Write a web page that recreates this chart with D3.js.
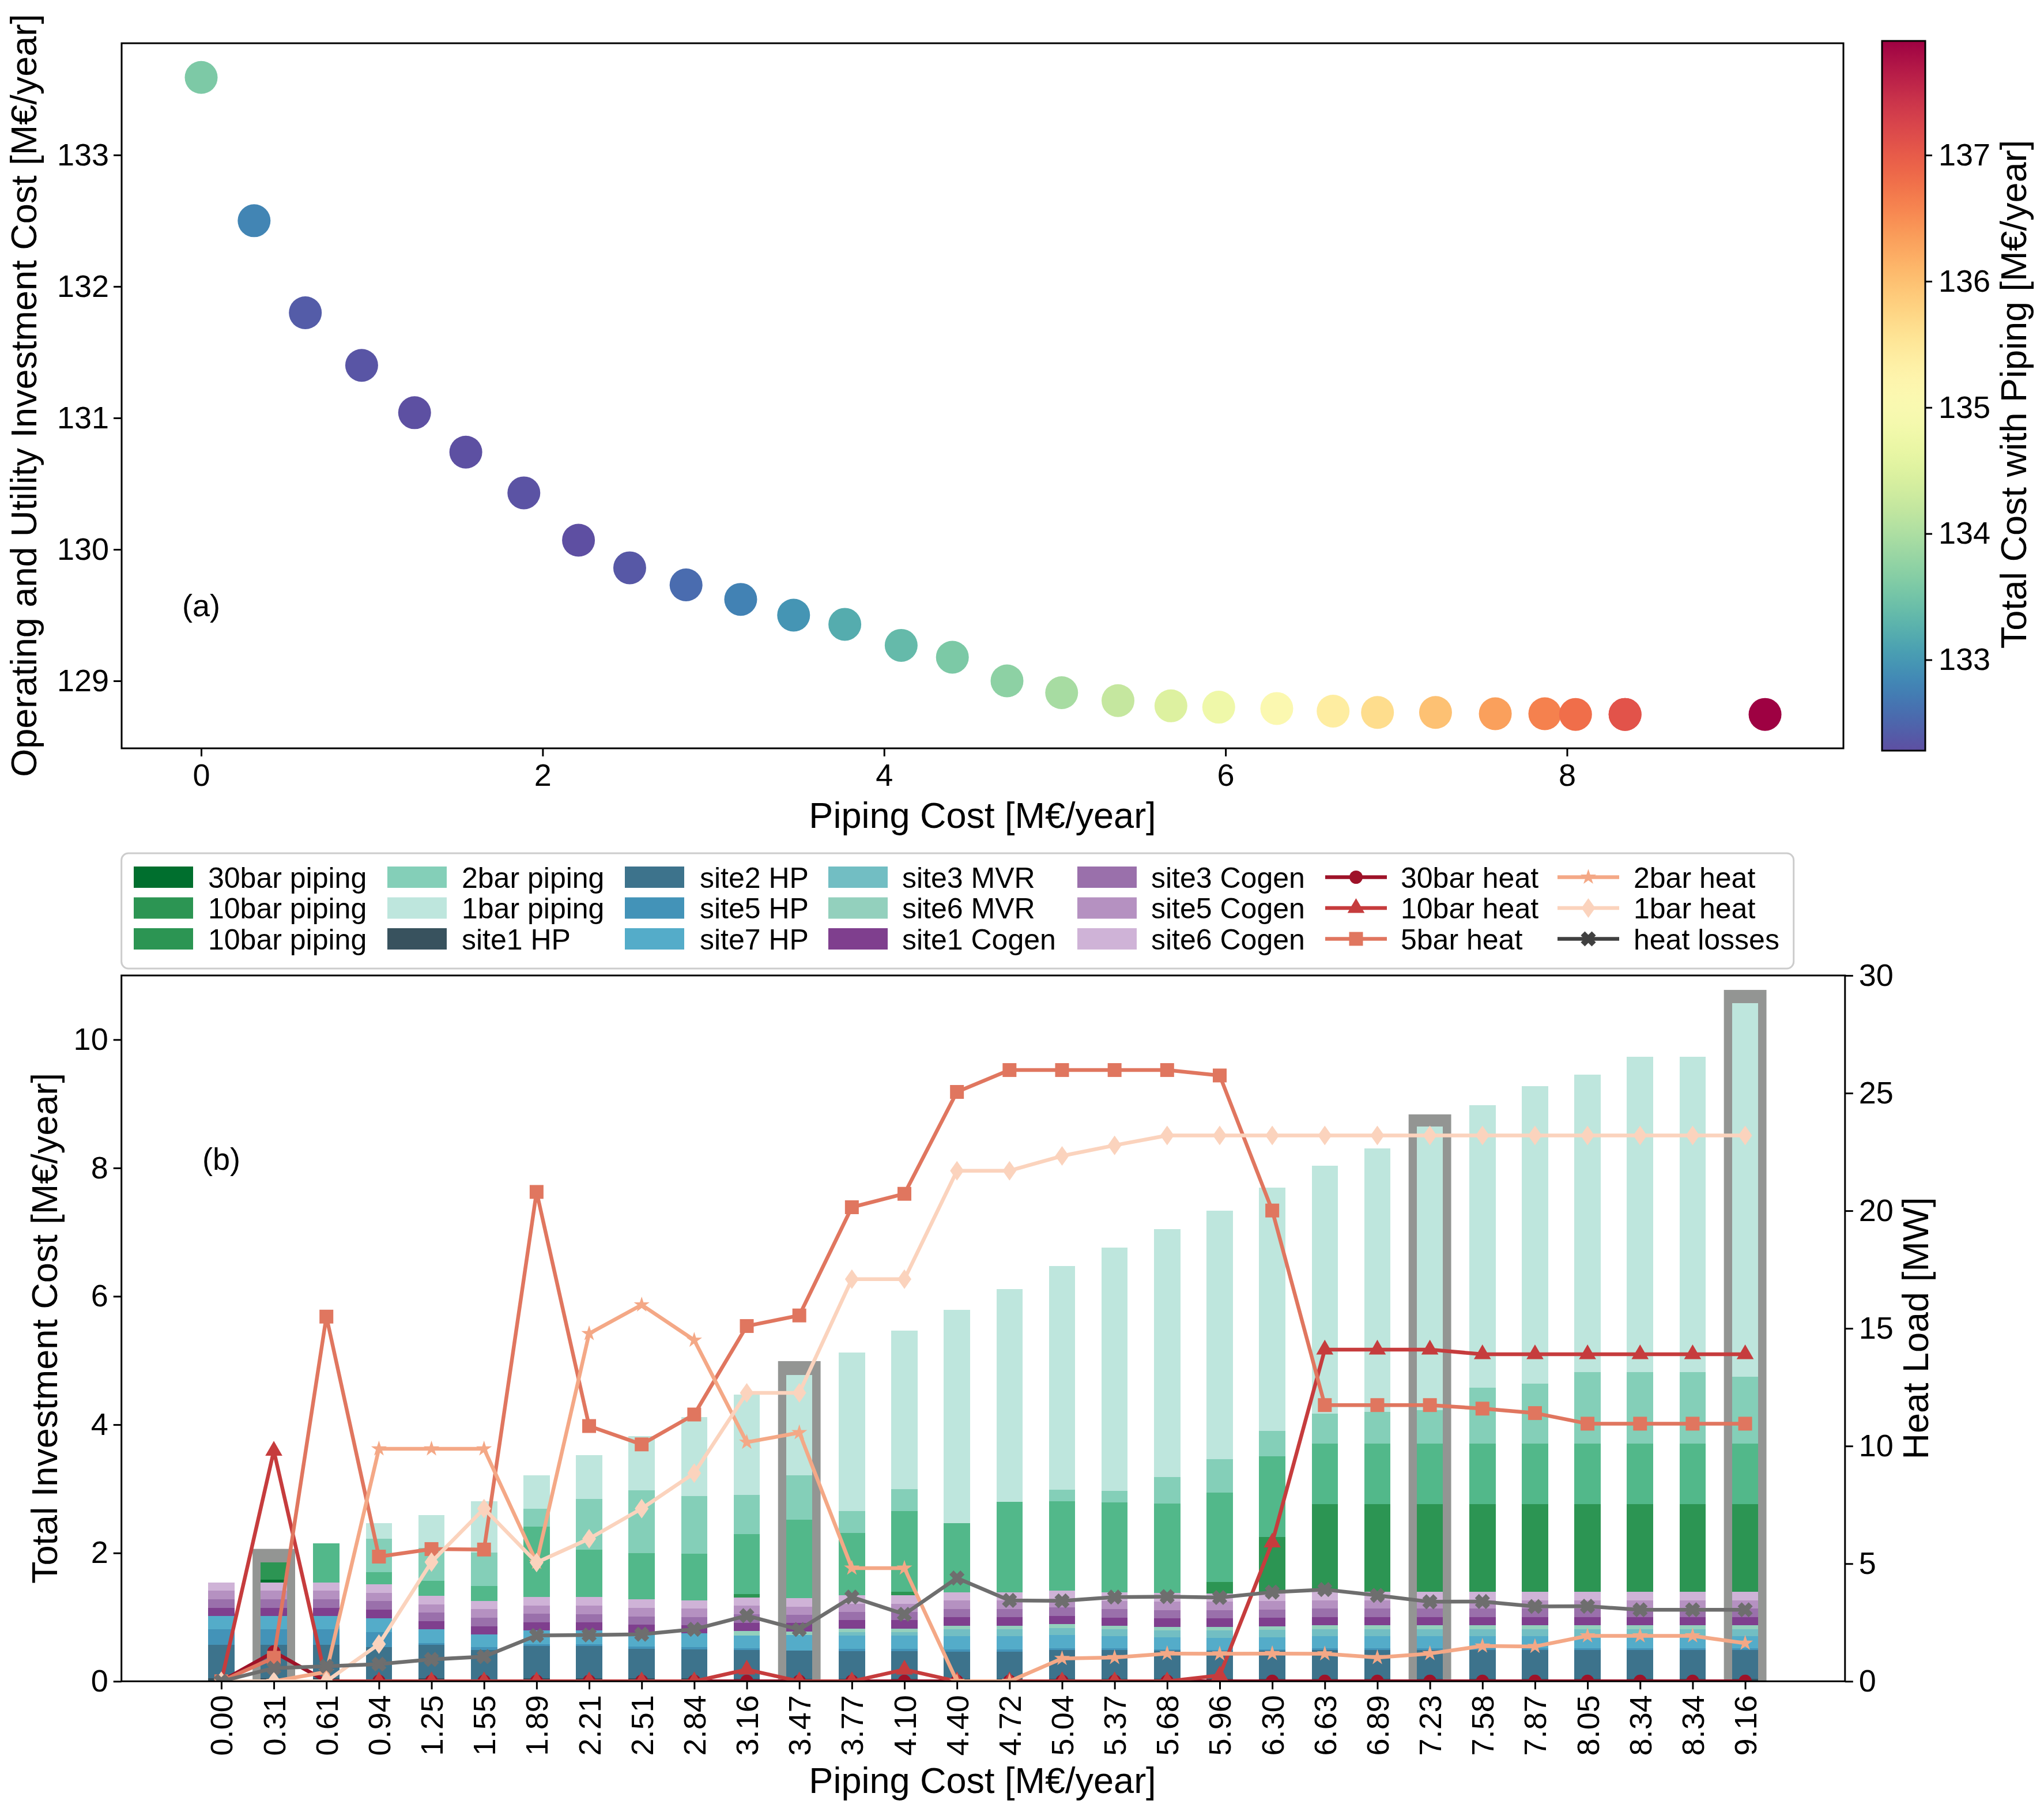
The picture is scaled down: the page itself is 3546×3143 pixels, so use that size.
<!DOCTYPE html>
<html><head><meta charset="utf-8">
<script src="https://cdn.jsdelivr.net/npm/d3@7"></script>
<style>body{margin:0;background:#fff} text{font-family:"Liberation Sans",Arial,Helvetica,sans-serif}</style>
</head><body><svg id="c" width="3546" height="3143"></svg>
<script>
// ---------------- DATA ----------------
const pipingLabels = ["0.00","0.31","0.61","0.94","1.25","1.55","1.89","2.21","2.51","2.84","3.16","3.47","3.77","4.10","4.40","4.72","5.04","5.37","5.68","5.96","6.30","6.63","6.89","7.23","7.58","7.87","8.05","8.34","8.34","9.16"];
const pipingCost = [0,0.31,0.61,0.94,1.25,1.55,1.89,2.21,2.51,2.84,3.16,3.47,3.77,4.10,4.40,4.72,5.04,5.37,5.68,5.96,6.30,6.63,6.89,7.23,7.58,7.87,8.05,8.34,8.34,9.16];
const opexCost = [133.59,132.50,131.80,131.40,131.04,130.74,130.43,130.07,129.86,129.73,129.62,129.50,129.43,129.27,129.18,129.00,128.91,128.85,128.81,128.80,128.79,128.77,128.76,128.76,128.75,128.75,128.745,128.745,128.745,128.745];
const totalCost = [133.59,132.81,132.41,132.34,132.29,132.29,132.32,132.28,132.37,132.57,132.78,132.97,133.20,133.37,133.58,133.72,133.95,134.22,134.49,134.76,135.09,135.40,135.65,135.99,136.33,136.62,136.80,137.09,137.09,137.905];
const topXTicks = [0,2,4,6,8];
const topYTicks = [129,130,131,132,133];
const cbarTicks = [133,134,135,136,137];

const site1HP   = [0.05,0.05,0.05,0.03,0.05,0.03,0.05,0.05,0.05,0.05,0.04,0.04,0.04,0.04,0.04,0.04,0.04,0.04,0.04,0.04,0.04,0.04,0.04,0.04,0.04,0.04,0.04,0.04,0.04,0.04];
const site2HP   = [0.52,0.52,0.52,0.50,0.52,0.46,0.50,0.50,0.46,0.45,0.45,0.44,0.43,0.43,0.42,0.42,0.445,0.445,0.436,0.43,0.436,0.445,0.445,0.445,0.445,0.445,0.445,0.445,0.445,0.445];
const site5HP   = [0.24,0.24,0.24,0.24,0.03,0.04,0.03,0.03,0.03,0.035,0.025,0,0.036,0.036,0.036,0.036,0.03,0.03,0.025,0.02,0.02,0.03,0.03,0.03,0.03,0.03,0.03,0.03,0.03,0.03];
const site7HP   = [0.21,0.21,0.21,0.21,0.21,0.20,0.21,0.21,0.215,0.21,0.20,0.245,0.21,0.21,0.21,0.21,0.207,0.186,0.185,0.19,0.19,0.186,0.186,0.186,0.186,0.186,0.186,0.186,0.186,0.186];
const site3MVR  = [0,0,0,0,0,0,0,0,0,0,0,0,0.051,0.051,0.105,0.105,0.107,0.111,0.111,0.114,0.117,0.111,0.111,0.111,0.111,0.111,0.111,0.111,0.111,0.111];
const site6MVR  = [0,0,0,0,0,0,0,0,0,0,0.07,0.05,0.054,0.054,0.054,0.054,0.06,0.054,0.051,0.054,0.054,0.06,0.06,0.06,0.06,0.06,0.06,0.06,0.06,0.06];
const site1Cogen= [0.123,0.123,0.123,0.135,0.13,0.13,0.132,0.132,0.13,0.13,0.126,0.134,0.134,0.134,0.134,0.134,0.133,0.129,0.135,0.135,0.134,0.128,0.128,0.128,0.128,0.128,0.128,0.128,0.128,0.128];
const site3Cogen= [0.135,0.135,0.135,0.135,0.135,0.13,0.135,0.126,0.12,0.126,0.135,0.13,0.126,0.126,0.129,0.129,0.135,0.134,0.128,0.129,0.129,0.135,0.135,0.135,0.135,0.135,0.135,0.135,0.135,0.135];
const site5Cogen= [0.135,0.135,0.135,0.126,0.126,0.136,0.126,0.135,0.135,0.135,0.135,0.126,0.129,0.129,0.132,0.132,0.128,0.126,0.129,0.129,0.132,0.126,0.126,0.126,0.126,0.126,0.126,0.126,0.126,0.126];
const site6Cogen= [0.125,0.125,0.125,0.134,0.129,0.126,0.135,0.135,0.135,0.126,0.125,0.132,0.135,0.135,0.129,0.129,0.126,0.135,0.135,0.129,0.123,0.135,0.135,0.135,0.135,0.135,0.135,0.135,0.135,0.135];
const pipe30bar = [0,0.05,0,0,0,0,0,0,0,0,0,0,0,0,0,0,0,0,0,0,0,0,0,0,0,0,0,0,0,0];
const pipe10bar = [0,0.27,0,0,0,0,0,0,0,0,0.054,0,0,0.051,0,0,0,0,0,0.18,0.875,1.367,1.367,1.367,1.367,1.367,1.367,1.367,1.367,1.367];
const pipe5bar  = [0,0,0.61,0.19,0.237,0.237,1.09,0.73,0.725,0.728,0.935,1.222,0.968,1.259,1.077,1.405,1.397,1.394,1.394,1.394,1.259,0.944,0.944,0.944,0.944,0.944,0.944,0.944,0.944,0.944];
const pipe2bar  = [0,0,0,0.52,0.51,0.52,0.28,0.79,0.98,0.90,0.61,0.693,0.342,0.344,0,0,0.18,0.186,0.417,0.521,0.396,0.463,0.49,0.523,0.871,0.935,1.114,1.114,1.114,1.036];
const pipe1bar  = [0,0,0,0.245,0.51,0.80,0.52,0.69,0.84,1.23,1.563,1.563,2.469,2.464,3.323,3.316,3.485,3.792,3.865,3.87,3.788,3.867,4.105,4.412,4.404,4.633,4.633,4.913,4.913,5.826];

const highlightIdx = [1,11,23,29];
const highlightTop = [2.064,4.99,8.835,10.775];

const heat30 = [0,1.25,0,0,0,0,0,0,0,0,0,0,0,0,0,0,0,0,0,0,0,0,0,0,0,0,0,0,0,0];
const heat10 = [0,9.8,0,0,0,0,0,0,0,0,0.5,0,0,0.5,0,0,0,0,0,0.25,5.9,14.1,14.1,14.1,13.9,13.9,13.9,13.9,13.9,13.9];
const heat5  = [0,1.0,15.5,5.3,5.62,5.6,20.8,10.85,10.07,11.34,15.1,15.55,20.15,20.72,25.05,25.98,25.98,25.98,25.98,25.75,20.01,11.74,11.74,11.74,11.59,11.4,10.95,10.95,10.95,10.95];
const heat2  = [0,0,0.4,9.88,9.88,9.88,5.05,14.78,16.0,14.5,10.16,10.57,4.81,4.81,0,0,0.97,1.01,1.18,1.17,1.18,1.17,1.01,1.18,1.5,1.48,1.93,1.93,1.93,1.62];
const heat1  = [0,0,0,1.58,5.07,7.34,5.05,6.06,7.34,8.85,12.26,12.26,17.09,17.09,21.7,21.7,22.33,22.78,23.2,23.2,23.2,23.2,23.2,23.2,23.2,23.2,23.2,23.2,23.2,23.2];
const heatLoss = [0,0.56,0.64,0.73,0.93,1.05,1.95,1.97,2.0,2.21,2.79,2.2,3.58,2.85,4.39,3.44,3.42,3.58,3.6,3.56,3.79,3.9,3.65,3.38,3.39,3.18,3.19,3.04,3.04,3.04];

const leftYTicks = [0,2,4,6,8,10];
const rightYTicks = [0,5,10,15,20,25,30];

const barKeys = ["site1 HP","site2 HP","site5 HP","site7 HP","site3 MVR","site6 MVR","site1 Cogen","site3 Cogen","site5 Cogen","site6 Cogen","30bar piping","10bar piping","5bar piping","2bar piping","1bar piping"];
const barValues = [site1HP,site2HP,site5HP,site7HP,site3MVR,site6MVR,site1Cogen,site3Cogen,site5Cogen,site6Cogen,pipe30bar,pipe10bar,pipe5bar,pipe2bar,pipe1bar];
const barColors = ["#38525e","#3d738c","#4393b8","#54acc9","#72bec3","#93d0bd","#7f3f8e","#9a70ab","#b591c1","#cfb3d7","#006f2e","#2c9553","#52b88a","#84cfb8","#bee6dd"];

const lineNames = ["30bar heat","10bar heat","5bar heat","2bar heat","1bar heat","heat losses"];
const lineValues = [heat30,heat10,heat5,heat2,heat1,heatLoss];
const lineColors = ["#9e1228","#c63c3d","#e0765f","#f4a886","#fbd3bd","#6e6e6e"];
const legendLineColors = ["#9e1228","#c63c3d","#e0765f","#f4a886","#fbd3bd","#404040"];
const lineMarkers = ["circle","triangle","square","star","diamond","x"];

const legendLabels = ["30bar piping","10bar piping","10bar piping","2bar piping","1bar piping","site1 HP","site2 HP","site5 HP","site7 HP","site3 MVR","site6 MVR","site1 Cogen","site3 Cogen","site5 Cogen","site6 Cogen"];
const legendColors = ["#006f2e","#2c9553","#2c9553","#84cfb8","#bee6dd","#38525e","#3d738c","#4393b8","#54acc9","#72bec3","#93d0bd","#7f3f8e","#9a70ab","#b591c1","#cfb3d7"];

// ---------------- DRAW ----------------
const FONT = '"Liberation Sans", Arial, Helvetica, sans-serif';
const svg = d3.select("#c");
svg.append("rect").attr("width",3546).attr("height",3143).attr("fill","#fff");

function styleAxis(g, fs){
  g.attr("font-family",null);
  g.select(".domain").remove();
  g.selectAll(".tick line").attr("stroke","#000").attr("stroke-width",3);
  g.selectAll(".tick text").attr("fill","#000").style("font-size",fs+"px").style("font-family",FONT);
}

// ---- Panel (a) ----
const T = {l:211, r:3198, t:75, b:1298};
const xT = d3.scaleLinear().domain([-0.466, 9.619]).range([T.l, T.r]);
const yT = d3.scaleLinear().domain([128.487, 133.85]).range([T.b, T.t]);
const cScale = d3.scaleSequential(t => d3.interpolateSpectral(1 - t)).domain([132.28, 137.905]);

svg.append("g").selectAll("circle").data(pipingCost).join("circle")
  .attr("cx", d => xT(d)).attr("cy", (d,i) => yT(opexCost[i]))
  .attr("r", 28.5).attr("fill", (d,i) => cScale(totalCost[i]));

svg.append("g").attr("transform",`translate(0,${T.b})`)
  .call(d3.axisBottom(xT).tickValues(topXTicks).tickSize(14).tickPadding(13).tickFormat(d3.format("d")))
  .call(g => styleAxis(g,54));
svg.append("g").attr("transform",`translate(${T.l},0)`)
  .call(d3.axisLeft(yT).tickValues(topYTicks).tickSize(14).tickPadding(8).tickFormat(d3.format("d")))
  .call(g => styleAxis(g,54));
svg.append("rect").attr("x",T.l).attr("y",T.t).attr("width",T.r-T.l).attr("height",T.b-T.t)
  .attr("fill","none").attr("stroke","#000").attr("stroke-width",3);

svg.append("text").attr("x",(T.l+T.r)/2).attr("y",1436).attr("text-anchor","middle")
  .style("font-size","63px").text("Piping Cost [M€/year]");
svg.append("text").attr("transform","translate(63,686) rotate(-90)").attr("text-anchor","middle")
  .style("font-size","63px").text("Operating and Utility Investment Cost [M€/year]");
svg.append("text").attr("x",xT(0)).attr("y",yT(129.49)).attr("text-anchor","middle")
  .style("font-size","54px").text("(a)");

// colorbar
const CB = {l:3265, r:3340, t:71, b:1302};
const cbY = d3.scaleLinear().domain(cScale.domain()).range([CB.b, CB.t]);
const defs = svg.append("defs");
const grad = defs.append("linearGradient").attr("id","cbg").attr("x1",0).attr("y1",1).attr("x2",0).attr("y2",0);
d3.range(0,1.0001,0.02).forEach(t => grad.append("stop").attr("offset",t).attr("stop-color", d3.interpolateSpectral(1-t)));
svg.append("rect").attr("x",CB.l).attr("y",CB.t).attr("width",CB.r-CB.l).attr("height",CB.b-CB.t)
  .attr("fill","url(#cbg)").attr("stroke","#000").attr("stroke-width",3);
svg.append("g").attr("transform",`translate(${CB.r},0)`)
  .call(d3.axisRight(cbY).tickValues(cbarTicks).tickSize(12).tickPadding(11).tickFormat(d3.format("d")))
  .call(g => styleAxis(g,54));
svg.append("text").attr("transform","translate(3515,684) rotate(-90)").attr("text-anchor","middle")
  .style("font-size","63px").text("Total Cost with Piping [M€/year]");

// ---- Panel (b) ----
const B = {l:210.7, r:3200.8, t:1692, b:2916.3};
const xB = d3.scaleLinear().domain([-1.9, 30.9]).range([B.l, B.r]);
const yB = d3.scaleLinear().domain([0, 11.0]).range([B.b, B.t]);
const yR = d3.scaleLinear().domain([0, 30]).range([B.b, B.t]);
const bw = xB(0.5) - xB(0);
const gw = xB(0.81) - xB(0);

defs.append("clipPath").attr("id","clipB").append("rect")
  .attr("x",B.l).attr("y",B.t).attr("width",B.r-B.l).attr("height",B.b-B.t);

// highlight
svg.append("g").selectAll("rect").data(highlightIdx).join("rect")
  .attr("x", d => xB(d) - gw/2).attr("width", gw)
  .attr("y", (d,i) => yB(highlightTop[i])).attr("height", (d,i) => yB(0) - yB(highlightTop[i]))
  .attr("fill","#939593");

// stacked bars
const rows = pipingLabels.map((lab,i) => {
  const r = {idx:i};
  barKeys.forEach((k,j) => r[k] = barValues[j][i]);
  return r;
});
const stacked = d3.stack().keys(barKeys)(rows);
svg.append("g").attr("shape-rendering","crispEdges").selectAll("g").data(stacked).join("g")
  .attr("fill", (d,j) => barColors[j])
  .selectAll("rect").data(d => d).join("rect")
  .attr("x", d => xB(d.data.idx) - bw/2).attr("width", bw)
  .attr("y", d => yB(d[1])).attr("height", d => Math.max(0, yB(d[0]) - yB(d[1])));

// symbols
function symPath(name){
  switch(name){
    case "circle": return d3.symbol(d3.symbolCircle, 415)();
    case "triangle": return d3.symbol(d3.symbolTriangle, 380)();
    case "square": return d3.symbol(d3.symbolSquare, 576)();
    case "star": return d3.symbol(d3.symbolStar, 230)();
    case "diamond": return "M0,-17L12,0L0,17L-12,0Z";
    case "x": { // fat filled X
      const L = 13.5, w = 5;
      return `M${-w},${-L}H${w}V${-w}H${L}V${w}H${w}V${L}H${-w}V${w}H${-L}V${-w}H${-w}Z`;
    }
  }
}
function symTransform(name){ return name === "x" ? " rotate(45)" : ""; }

const gL = svg.append("g").attr("clip-path","url(#clipB)");
const lineGen = d3.line().x((d,i) => xB(i)).y(d => yR(d));
lineValues.forEach((vals, k) => {
  const g = gL.append("g");
  g.append("path").datum(vals).attr("d", lineGen).attr("fill","none")
    .attr("stroke", lineColors[k]).attr("stroke-width",6.5).attr("stroke-linejoin","round");
  g.selectAll("path.m").data(vals).join("path").attr("class","m")
    .attr("d", symPath(lineMarkers[k]))
    .attr("transform", (d,i) => `translate(${xB(i)},${yR(d)})` + symTransform(lineMarkers[k]))
    .attr("fill", lineColors[k]);
});

// axes
const axB = svg.append("g").attr("transform",`translate(0,${B.b})`)
  .call(d3.axisBottom(xB).tickValues(d3.range(pipingLabels.length)).tickSize(14).tickFormat(i => pipingLabels[i]))
  .call(g => styleAxis(g,54));
axB.selectAll(".tick text").attr("transform","rotate(-90)").attr("x",-24).attr("y",19).attr("dy",0)
  .style("text-anchor","end");
svg.append("g").attr("transform",`translate(${B.l},0)`)
  .call(d3.axisLeft(yB).tickValues(leftYTicks).tickSize(14).tickPadding(9).tickFormat(d3.format("d")))
  .call(g => styleAxis(g,54));
svg.append("g").attr("transform",`translate(${B.r},0)`)
  .call(d3.axisRight(yR).tickValues(rightYTicks).tickSize(14).tickPadding(10).tickFormat(d3.format("d")))
  .call(g => styleAxis(g,54));
svg.append("rect").attr("x",B.l).attr("y",B.t).attr("width",B.r-B.l).attr("height",B.b-B.t)
  .attr("fill","none").attr("stroke","#000").attr("stroke-width",3);

svg.append("text").attr("x",(T.l+T.r)/2).attr("y",3110).attr("text-anchor","middle")
  .style("font-size","63px").text("Piping Cost [M€/year]");
svg.append("text").attr("transform","translate(99,2304) rotate(-90)").attr("text-anchor","middle")
  .style("font-size","63px").text("Total Investment Cost [M€/year]");
svg.append("text").attr("transform","translate(3345,2304) rotate(-90)").attr("text-anchor","middle")
  .style("font-size","63px").text("Heat Load [MW]");
svg.append("text").attr("x",xB(0)).attr("y",yB(7.97)).attr("text-anchor","middle")
  .style("font-size","54px").text("(b)");

// legend
const LG = svg.append("g");
LG.append("rect").attr("x",210.7).attr("y",1480).attr("width",2901).attr("height",200).attr("rx",12)
  .attr("fill","#fff").attr("fill-opacity",0.8).attr("stroke","#cccccc").attr("stroke-width",3);
const colPatchX = [232,672,1084,1437,1869,2299,2702];
const colTextX  = [361,801,1214,1565,1997,2430,2834];
const rowY = [1521.5,1575,1628.5];
legendLabels.forEach((lab,i) => {
  const c = Math.floor(i/3), r = i%3;
  LG.append("rect").attr("x",colPatchX[c]).attr("y",rowY[r]-18.5).attr("width",103).attr("height",37)
    .attr("fill",legendColors[i]);
  LG.append("text").attr("x",colTextX[c]).attr("y",rowY[r]+18).style("font-size","50px").text(lab);
});
lineNames.forEach((lab,k) => {
  const i = legendLabels.length + k;
  const c = Math.floor(i/3), r = i%3;
  const x0 = colPatchX[c];
  LG.append("line").attr("x1",x0).attr("x2",x0+107).attr("y1",rowY[r]).attr("y2",rowY[r])
    .attr("stroke",legendLineColors[k]).attr("stroke-width",6.5);
  LG.append("path").attr("d",symPath(lineMarkers[k]))
    .attr("transform",`translate(${x0+53.5},${rowY[r]})` + symTransform(lineMarkers[k]))
    .attr("fill",legendLineColors[k]);
  LG.append("text").attr("x",colTextX[c]).attr("y",rowY[r]+18).style("font-size","50px").text(lab);
});
</script></body></html>
